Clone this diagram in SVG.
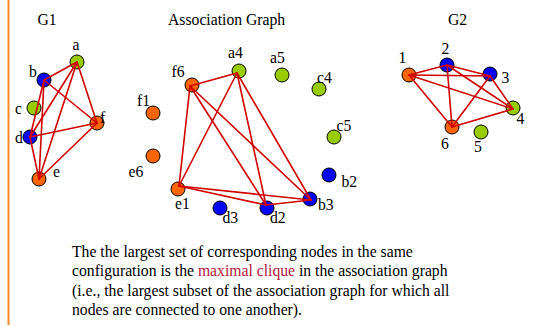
<svg xmlns="http://www.w3.org/2000/svg" width="539" height="326" viewBox="0 0 539 326">
<style>
text{font-family:"Liberation Serif","Times New Roman",serif;font-size:15.7px;fill:#000}
.n{stroke:#000;stroke-width:1}
.o{fill:#FF6600}.g{fill:#99CC00}.b{fill:#0000FF}
.e line{stroke:#D00000;stroke-width:1.6;stroke-linecap:round}
.hl{fill:#B0183C}
</style>
<rect width="539" height="326" fill="#fff"/>
<line x1="8.5" y1="0" x2="8.5" y2="325" stroke="#F7882A" stroke-width="2"/>
<text x="37.5" y="25">G1</text>
<text x="168" y="24.5">Association Graph</text>
<text x="448" y="25">G2</text>
<g id="g1-a"><circle class="n g" cx="77" cy="62" r="7"/><text x="72.5" y="49.5">a</text></g>
<g id="g1-b"><circle class="n b" cx="44" cy="80" r="7"/><text x="29" y="77">b</text></g>
<g id="g1-c"><circle class="n g" cx="34" cy="108" r="7"/><text x="15" y="114">c</text></g>
<g id="g1-d"><circle class="n b" cx="30" cy="137" r="7"/><text x="15" y="142.5">d</text></g>
<g id="g1-f"><circle class="n o" cx="97" cy="123" r="7"/><text x="100" y="123">f</text></g>
<g id="g1-e"><circle class="n o" cx="39" cy="179" r="7"/><text x="53" y="177">e</text></g>
<g id="ag-a4"><circle class="n g" cx="239" cy="71" r="7"/><text x="228" y="58.3">a4</text></g>
<g id="ag-a5"><circle class="n g" cx="282" cy="75" r="7"/><text x="270" y="63.3">a5</text></g>
<g id="ag-c4"><circle class="n g" cx="319" cy="89" r="7"/><text x="317" y="83">c4</text></g>
<g id="ag-c5"><circle class="n g" cx="334" cy="137" r="7"/><text x="336.5" y="130.5">c5</text></g>
<g id="ag-b2"><circle class="n b" cx="329" cy="175" r="7"/><text x="341.5" y="186.5">b2</text></g>
<g id="ag-b3"><circle class="n b" cx="310" cy="199" r="7"/><text x="318" y="210">b3</text></g>
<g id="ag-d2"><circle class="n b" cx="267" cy="208" r="7"/><text x="270" y="223">d2</text></g>
<g id="ag-d3"><circle class="n b" cx="220" cy="208" r="7"/><text x="222.5" y="223">d3</text></g>
<g id="ag-e1"><circle class="n o" cx="178" cy="189" r="7"/><text x="175" y="209">e1</text></g>
<g id="ag-e6"><circle class="n o" cx="153" cy="156" r="7"/><text x="128.5" y="176.5">e6</text></g>
<g id="ag-f1"><circle class="n o" cx="153" cy="113" r="7"/><text x="137" y="106">f1</text></g>
<g id="ag-f6"><circle class="n o" cx="192" cy="85" r="7"/><text x="171.5" y="76.5">f6</text></g>
<g id="g2-1"><circle class="n o" cx="409" cy="75" r="7"/><text x="398.5" y="63">1</text></g>
<g id="g2-2"><circle class="n b" cx="447" cy="65" r="7"/><text x="441.5" y="54">2</text></g>
<g id="g2-3"><circle class="n b" cx="490" cy="74" r="7"/><text x="501.5" y="82.5">3</text></g>
<g id="g2-4"><circle class="n g" cx="513" cy="108" r="7"/><text x="516.5" y="124">4</text></g>
<g id="g2-5"><circle class="n g" cx="481" cy="132" r="7"/><text x="474" y="151.5">5</text></g>
<g id="g2-6"><circle class="n o" cx="452" cy="127" r="7"/><text x="441" y="149">6</text></g>
<g id="connectors" class="e">
<line x1="77" y1="62" x2="44" y2="80"/>
<line x1="77" y1="62" x2="30" y2="137"/>
<line x1="77" y1="62" x2="39" y2="179"/>
<line x1="77" y1="62" x2="97" y2="123"/>
<line x1="44" y1="80" x2="30" y2="137"/>
<line x1="44" y1="80" x2="39" y2="179"/>
<line x1="44" y1="80" x2="97" y2="123"/>
<line x1="30" y1="137" x2="39" y2="179"/>
<line x1="30" y1="137" x2="97" y2="123"/>
<line x1="39" y1="179" x2="97" y2="123"/>
<line x1="190" y1="86" x2="237" y2="73"/>
<line x1="190" y1="86" x2="179" y2="186"/>
<line x1="190" y1="86" x2="266" y2="205"/>
<line x1="190" y1="86" x2="311" y2="200"/>
<line x1="237" y1="73" x2="179" y2="186"/>
<line x1="237" y1="73" x2="266" y2="205"/>
<line x1="237" y1="73" x2="311" y2="200"/>
<line x1="179" y1="186" x2="266" y2="205"/>
<line x1="179" y1="186" x2="311" y2="200"/>
<line x1="266" y1="205" x2="311" y2="200"/>
<line x1="409" y1="75" x2="447" y2="65"/>
<line x1="409" y1="75" x2="490" y2="76"/>
<line x1="409" y1="75" x2="513" y2="109"/>
<line x1="409" y1="75" x2="452" y2="127"/>
<line x1="447" y1="65" x2="490" y2="76"/>
<line x1="447" y1="65" x2="513" y2="109"/>
<line x1="447" y1="65" x2="452" y2="127"/>
<line x1="490" y1="76" x2="513" y2="109"/>
<line x1="490" y1="76" x2="452" y2="127"/>
<line x1="513" y1="109" x2="452" y2="127"/>
</g>
<g id="caption">
<text x="72" y="256.5">The the largest set of corresponding nodes in the same</text>
<text x="72" y="276">configuration is the <tspan class="hl">maximal clique</tspan> in the association graph</text>
<text x="72" y="295.5">(i.e., the largest subset of the association graph for which all</text>
<text x="72" y="315">nodes are connected to one another).</text>
</g>
</svg>
